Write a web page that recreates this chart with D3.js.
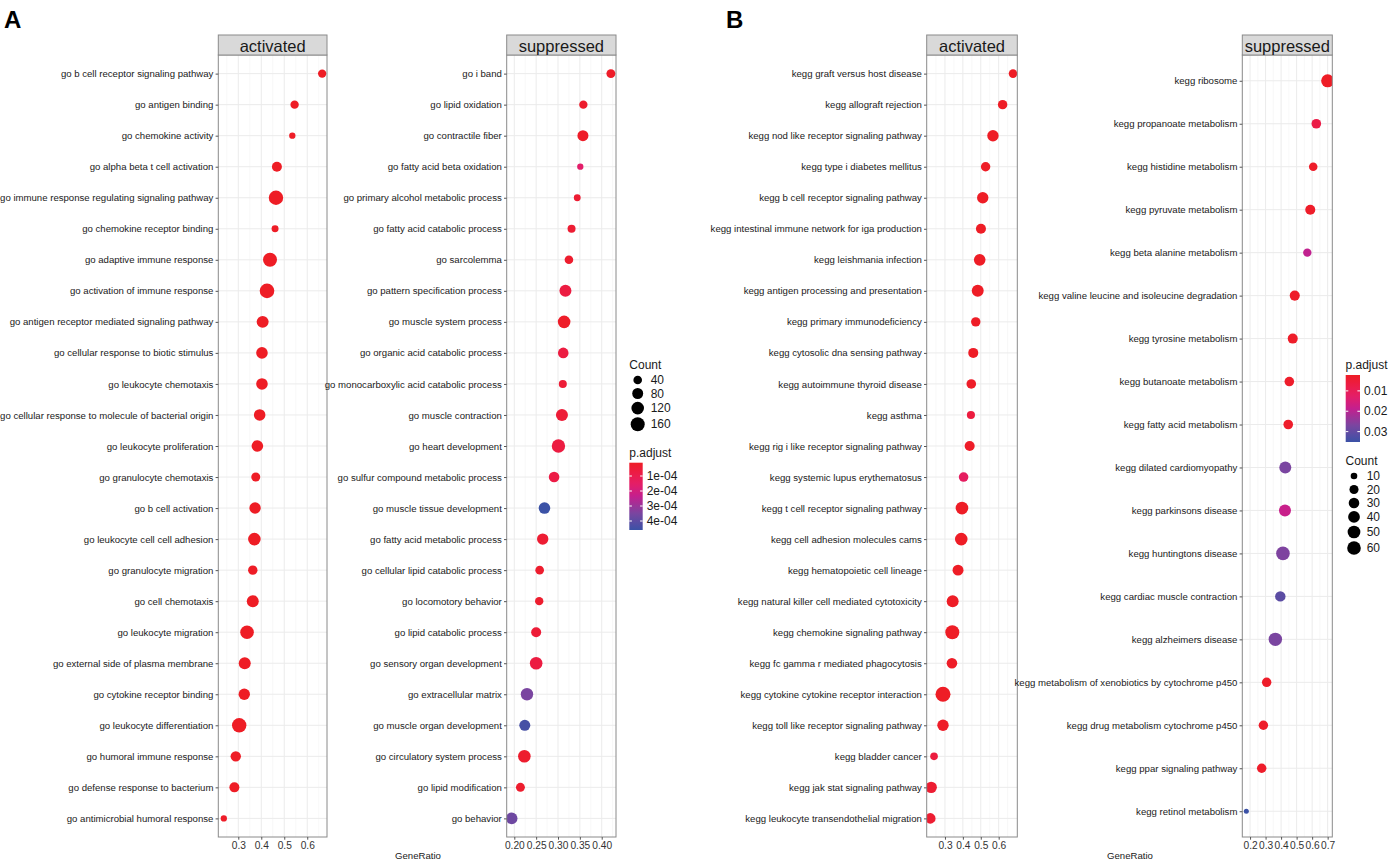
<!DOCTYPE html>
<html>
<head>
<meta charset="utf-8">
<script src="https://cdn.jsdelivr.net/npm/d3@7/dist/d3.min.js"></script>
<style>
  body { margin: 0; background: #fff; }
  text { font-family: "Liberation Sans", Arial, sans-serif; }
</style>
</head>
<body>
<script>
// ---- data: A (GO) ----
const goActTerms = ["go b cell receptor signaling pathway", "go antigen binding", "go chemokine activity",
  "go alpha beta t cell activation", "go immune response regulating signaling pathway", "go chemokine receptor binding",
  "go adaptive immune response", "go activation of immune response", "go antigen receptor mediated signaling pathway",
  "go cellular response to biotic stimulus", "go leukocyte chemotaxis", "go cellular response to molecule of bacterial origin",
  "go leukocyte proliferation", "go granulocyte chemotaxis", "go b cell activation", "go leukocyte cell cell adhesion",
  "go granulocyte migration", "go cell chemotaxis", "go leukocyte migration", "go external side of plasma membrane",
  "go cytokine receptor binding", "go leukocyte differentiation", "go humoral immune response",
  "go defense response to bacterium", "go antimicrobial humoral response"];
const goActRatio = [0.665, 0.545, 0.535, 0.468, 0.464, 0.460, 0.438, 0.425, 0.406, 0.403, 0.403, 0.393, 0.383,
  0.376, 0.373, 0.370, 0.363, 0.363, 0.338, 0.328, 0.326, 0.304, 0.289, 0.283, 0.237];
const goActCount = [37, 37, 20, 61, 173, 24, 160, 180, 103, 94, 94, 94, 94, 45, 89, 119, 51, 103, 148, 103, 89, 173, 68, 61, 20];
const goActPadj = [1.2e-5, 1.3e-5, 1.5e-5, 1.2e-5, 1.2e-5, 1.6e-5, 1.2e-5, 1.2e-5, 1.2e-5, 1.2e-5, 1.2e-5, 1.2e-5,
  1.2e-5, 1.4e-5, 1.2e-5, 1.2e-5, 1.4e-5, 1.2e-5, 1.2e-5, 1.2e-5, 1.2e-5, 1.2e-5, 1.3e-5, 1.3e-5, 2.0e-5];

const goSupTerms = ["go i band", "go lipid oxidation", "go contractile fiber", "go fatty acid beta oxidation",
  "go primary alcohol metabolic process", "go fatty acid catabolic process", "go sarcolemma",
  "go pattern specification process", "go muscle system process", "go organic acid catabolic process",
  "go monocarboxylic acid catabolic process", "go muscle contraction", "go heart development",
  "go sulfur compound metabolic process", "go muscle tissue development", "go fatty acid metabolic process",
  "go cellular lipid catabolic process", "go locomotory behavior", "go lipid catabolic process",
  "go sensory organ development", "go extracellular matrix", "go muscle organ development",
  "go circulatory system process", "go lipid modification", "go behavior"];
const goSupRatio = [0.421, 0.358, 0.357, 0.351, 0.344, 0.331, 0.325, 0.317, 0.314, 0.312, 0.311, 0.309, 0.301,
  0.291, 0.269, 0.265, 0.258, 0.257, 0.250, 0.250, 0.229, 0.224, 0.223, 0.214, 0.194];
const goSupCount = [45, 37, 81, 20, 23, 33, 40, 103, 119, 72, 33, 103, 142, 72, 94, 89, 40, 37, 61, 119, 114, 81, 119, 45, 94];
const goSupPadj = [2e-5, 3e-5, 2e-5, 1.6e-4, 4e-5, 4e-5, 3e-5, 7e-5, 2e-5, 7e-5, 5e-5, 5e-5, 7e-5,
  8e-5, 4.6e-4, 4e-5, 3e-5, 3e-5, 5e-5, 7e-5, 3.5e-4, 4.4e-4, 3e-5, 3e-5, 3.7e-4];

// ---- data: B (KEGG) ----
const keggActTerms = ["kegg graft versus host disease", "kegg allograft rejection", "kegg nod like receptor signaling pathway",
  "kegg type i diabetes mellitus", "kegg b cell receptor signaling pathway", "kegg intestinal immune network for iga production",
  "kegg leishmania infection", "kegg antigen processing and presentation", "kegg primary immunodeficiency",
  "kegg cytosolic dna sensing pathway", "kegg autoimmune thyroid disease", "kegg asthma",
  "kegg rig i like receptor signaling pathway", "kegg systemic lupus erythematosus", "kegg t cell receptor signaling pathway",
  "kegg cell adhesion molecules cams", "kegg hematopoietic cell lineage", "kegg natural killer cell mediated cytotoxicity",
  "kegg chemokine signaling pathway", "kegg fc gamma r mediated phagocytosis", "kegg cytokine cytokine receptor interaction",
  "kegg toll like receptor signaling pathway", "kegg bladder cancer", "kegg jak stat signaling pathway",
  "kegg leukocyte transendothelial migration"];
const keggActRatio = [0.680, 0.622, 0.568, 0.527, 0.511, 0.501, 0.494, 0.483, 0.472, 0.458, 0.447, 0.445, 0.438,
  0.404, 0.395, 0.391, 0.373, 0.343, 0.341, 0.339, 0.289, 0.289, 0.239, 0.223, 0.218];
const keggActCount = [17, 22, 37, 22, 37, 26, 39, 42, 22, 26, 23, 15, 26, 23, 49, 49, 33, 42, 65, 30, 78, 37, 13, 37, 30];
const keggActPadj = [0.0023, 0.0023, 0.0023, 0.0023, 0.0023, 0.0023, 0.0023, 0.0023, 0.0025, 0.0025, 0.0026, 0.0062,
  0.0028, 0.0115, 0.0023, 0.0023, 0.0024, 0.0024, 0.0024, 0.0026, 0.0024, 0.0028, 0.0060, 0.0042, 0.0042];

const keggSupTerms = ["kegg ribosome", "kegg propanoate metabolism", "kegg histidine metabolism", "kegg pyruvate metabolism",
  "kegg beta alanine metabolism", "kegg valine leucine and isoleucine degradation", "kegg tyrosine metabolism",
  "kegg butanoate metabolism", "kegg fatty acid metabolism", "kegg dilated cardiomyopathy", "kegg parkinsons disease",
  "kegg huntingtons disease", "kegg cardiac muscle contraction", "kegg alzheimers disease",
  "kegg metabolism of xenobiotics by cytochrome p450", "kegg drug metabolism cytochrome p450",
  "kegg ppar signaling pathway", "kegg retinol metabolism"];
const keggSupRatio = [0.700, 0.627, 0.607, 0.588, 0.569, 0.488, 0.475, 0.453, 0.446, 0.427, 0.425, 0.412, 0.395,
  0.363, 0.307, 0.286, 0.275, 0.176];
const keggSupCount = [53, 23, 17, 26, 16, 26, 26, 23, 23, 42, 42, 60, 29, 58, 22, 22, 22, 8];
const keggSupPadj = [0.0023, 0.0075, 0.0030, 0.0030, 0.0190, 0.0030, 0.0030, 0.0032, 0.0032, 0.0270, 0.0180,
  0.0265, 0.0310, 0.0270, 0.0030, 0.0030, 0.0032, 0.0350];

const goCountBreaks = [40, 80, 120, 160];
const goPadjBreaks = [1e-4, 2e-4, 3e-4, 4e-4];
const keggCountBreaks = [10, 20, 30, 40, 50, 60];
const keggPadjBreaks = [0.01, 0.02, 0.03];

// ---- scales shared inside each figure ----
// red -> magenta -> purple -> blue, sampled from the printed colour bar
const gradStops = [0, 0.15, 0.33, 0.5, 0.75, 1];
const gradColors = ["#ee1d25", "#ec1c45", "#e31e6a", "#c41f8e", "#7b45a0", "#3b52a6"];
function gradScale(lo, hi) {
  return d3.scaleLinear().domain(gradStops.map(t => lo + t * (hi - lo))).range(gradColors).clamp(true);
}
const colorA = gradScale(1.13e-5, 4.6e-4);
const colorB = gradScale(0.0022, 0.0351);
const sqA = d3.scaleSqrt().domain([0, 176.5]).range([0, 5]).clamp(true);
const sqB = d3.scaleSqrt().domain([0, 70]).range([0, 5]).clamp(true);
const sizeA = c => 2.5 + sqA(Math.max(0, c - 17));
const sizeB = c => 2.5 + sqB(Math.max(0, c - 8.2));

const svg = d3.select("body").append("svg").attr("width", 1388).attr("height", 859);
const panelTop = 55, panelBottom = 837;

function panel(p) {
  const g = svg.append("g");
  const x = d3.scaleLinear().domain(p.dom).range([p.x0, p.x1]);
  const y = d3.scalePoint().domain(p.terms).range([panelTop, panelBottom]).padding(0.6);
  const step = p.ticks[1] - p.ticks[0];
  const minor = d3.range(p.ticks[0] - step / 2, p.dom[1], step).filter(v => v > p.dom[0] && v < p.dom[1]);
  const h = panelBottom - panelTop;

  g.append("rect").attr("x", p.x0).attr("y", panelTop).attr("width", p.x1 - p.x0).attr("height", h).attr("fill", "#fff");
  g.selectAll(".mn").data(minor).enter().append("line")
    .attr("x1", d => x(d)).attr("x2", d => x(d)).attr("y1", panelTop).attr("y2", panelBottom)
    .attr("stroke", "#f3f3f3").attr("stroke-width", 0.6);
  g.selectAll(".mj").data(p.ticks).enter().append("line")
    .attr("x1", d => x(d)).attr("x2", d => x(d)).attr("y1", panelTop).attr("y2", panelBottom)
    .attr("stroke", "#ebebeb").attr("stroke-width", 1);
  g.selectAll(".hz").data(p.terms).enter().append("line")
    .attr("x1", p.x0).attr("x2", p.x1).attr("y1", d => y(d)).attr("y2", d => y(d))
    .attr("stroke", "#ebebeb").attr("stroke-width", 1);

  const clipId = "clip" + Math.round(p.x0);
  svg.append("clipPath").attr("id", clipId).append("rect")
    .attr("x", p.x0).attr("y", panelTop).attr("width", p.x1 - p.x0).attr("height", h);
  g.append("g").attr("clip-path", `url(#${clipId})`)
    .selectAll("circle").data(p.terms.map((t, i) => ({ t, r: p.ratio[i], c: p.count[i], q: p.padj[i] })))
    .enter().append("circle")
    .attr("cx", d => x(d.r)).attr("cy", d => y(d.t))
    .attr("r", d => p.size(d.c)).attr("fill", d => p.color(d.q));

  g.append("rect").attr("x", p.x0).attr("y", panelTop).attr("width", p.x1 - p.x0).attr("height", h)
    .attr("fill", "none").attr("stroke", "#8a8a8a").attr("stroke-width", 1);

  // strip
  g.append("rect").attr("x", p.x0).attr("y", 35).attr("width", p.x1 - p.x0).attr("height", 20)
    .attr("fill", "#d9d9d9").attr("stroke", "#8a8a8a").attr("stroke-width", 1);
  g.append("text").attr("x", (p.x0 + p.x1) / 2).attr("y", 45.5).attr("text-anchor", "middle")
    .attr("dominant-baseline", "central").attr("font-size", 16.5).attr("fill", "#1a1a1a").text(p.strip);

  // axes
  const ya = g.append("g").attr("transform", `translate(${p.x0},0)`)
    .call(d3.axisLeft(y).tickSize(2.7).tickPadding(2.2));
  ya.select(".domain").remove();
  ya.selectAll("line").attr("stroke", "#555");
  ya.selectAll("text").attr("font-size", 9.6).attr("fill", "#1a1a1a");

  const xa = g.append("g").attr("transform", `translate(0,${panelBottom})`)
    .call(d3.axisBottom(x).tickValues(p.ticks).tickFormat(d3.format(p.fmt)).tickSize(2.7).tickPadding(2));
  xa.select(".domain").remove();
  xa.selectAll("line").attr("stroke", "#555");
  xa.selectAll("text").attr("font-size", 10.2).attr("fill", "#333");
}

panel({ terms: goActTerms, ratio: goActRatio, count: goActCount, padj: goActPadj, x0: 218.3, x1: 327,
  dom: [0.213, 0.686], ticks: [0.3, 0.4, 0.5, 0.6], fmt: ".1f", color: colorA, size: sizeA, strip: "activated" });
panel({ terms: goSupTerms, ratio: goSupRatio, count: goSupCount, padj: goSupPadj, x0: 506.7, x1: 616,
  dom: [0.1826, 0.4327], ticks: [0.20, 0.25, 0.30, 0.35, 0.40], fmt: ".2f", color: colorA, size: sizeA, strip: "suppressed" });
panel({ terms: keggActTerms, ratio: keggActRatio, count: keggActCount, padj: keggActPadj, x0: 926.7, x1: 1017.3,
  dom: [0.198, 0.704], ticks: [0.3, 0.4, 0.5, 0.6], fmt: ".1f", color: colorB, size: sizeB, strip: "activated" });
panel({ terms: keggSupTerms, ratio: keggSupRatio, count: keggSupCount, padj: keggSupPadj, x0: 1242.3, x1: 1332.3,
  dom: [0.150, 0.730], ticks: [0.2, 0.3, 0.4, 0.5, 0.6, 0.7], fmt: ".1f", color: colorB, size: sizeB, strip: "suppressed" });

// x titles and panel letters
[[418, "GeneRatio"], [1130, "GeneRatio"]].forEach(([cx, t]) =>
  svg.append("text").attr("x", cx).attr("y", 855).attr("text-anchor", "middle").attr("dominant-baseline", "central")
    .attr("font-size", 9.6).attr("fill", "#1a1a1a").text(t));
svg.append("text").attr("x", 4).attr("y", 28).attr("font-size", 24).attr("font-weight", "bold").text("A");
svg.append("text").attr("x", 726).attr("y", 28).attr("font-size", 24).attr("font-weight", "bold").text("B");

// ---- legends ----
function countLegend(lx, ty, breaks, size, cx, tx) {
  svg.append("text").attr("x", lx).attr("y", ty).attr("dominant-baseline", "central")
    .attr("font-size", 12).attr("fill", "#1a1a1a").text("Count");
  let yy = ty + 15;
  breaks.forEach((b, i) => {
    if (i > 0) yy += Math.max(13.5, size(breaks[i - 1]) + size(b) + 2.8);
    svg.append("circle").attr("cx", cx).attr("cy", yy).attr("r", size(b)).attr("fill", "#000");
    svg.append("text").attr("x", tx).attr("y", yy).attr("dominant-baseline", "central")
      .attr("font-size", 12).attr("fill", "#1a1a1a").text(b);
  });
}
function colorLegend(lx, ty, bx, bw, y0, y1, color, breaks, fmt, tx) {
  svg.append("text").attr("x", lx).attr("y", ty).attr("dominant-baseline", "central")
    .attr("font-size", 12).attr("fill", "#1a1a1a").text("p.adjust");
  const dom = [color.domain()[0], color.domain()[color.domain().length - 1]];
  const yv = d3.scaleLinear().domain(dom).range([y0, y1]);
  const id = "grad" + Math.round(bx);
  const grad = svg.append("defs").append("linearGradient").attr("id", id)
    .attr("x1", 0).attr("x2", 0).attr("y1", 0).attr("y2", 1);
  d3.range(0, 1.0001, 0.05).forEach(t => {
    grad.append("stop").attr("offset", t).attr("stop-color", color(dom[0] + t * (dom[1] - dom[0])));
  });
  svg.append("rect").attr("x", bx).attr("y", y0).attr("width", bw).attr("height", y1 - y0).attr("fill", `url(#${id})`);
  breaks.forEach(b => {
    const yy = yv(b);
    svg.append("line").attr("x1", bx).attr("x2", bx + 2.6).attr("y1", yy).attr("y2", yy).attr("stroke", "#fff");
    svg.append("line").attr("x1", bx + bw - 2.6).attr("x2", bx + bw).attr("y1", yy).attr("y2", yy).attr("stroke", "#fff");
    svg.append("text").attr("x", tx).attr("y", yy).attr("dominant-baseline", "central")
      .attr("font-size", 12).attr("fill", "#1a1a1a").text(fmt(b));
  });
}
const sci = v => v.toExponential(0).replace(/e([+-])(\d)$/, "e$10$2");

countLegend(629.3, 365, goCountBreaks, sizeA, 637.7, 650.7);
colorLegend(629.3, 453.3, 629.3, 13.4, 462.7, 530, colorA, goPadjBreaks, sci, 646.7);
colorLegend(1345.5, 365, 1345.7, 14.3, 375, 442, colorB, keggPadjBreaks, d3.format(".2f"), 1364);
countLegend(1345.5, 461, keggCountBreaks, sizeB, 1354, 1366.7);
</script>
</body>
</html>
